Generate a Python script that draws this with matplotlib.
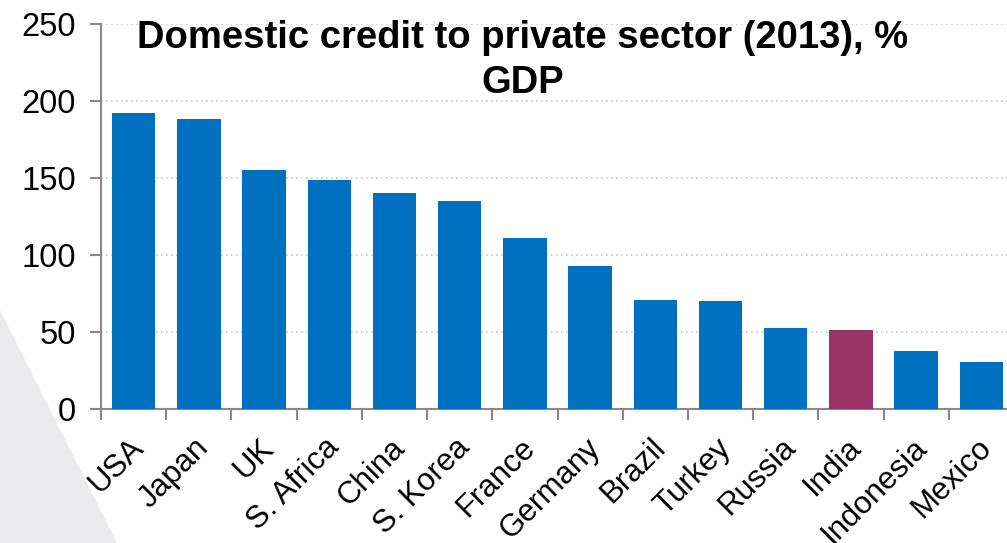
import numpy as np
import matplotlib
matplotlib.use("Agg")
import matplotlib.pyplot as plt
from matplotlib.patches import Polygon
from matplotlib.transforms import ScaledTranslation

plt.rcParams['font.family'] = ['Liberation Sans', 'DejaVu Sans']

# data
countries = ["USA", "Japan", "UK", "S. Africa", "China", "S. Korea", "France",
             "Germany", "Brazil", "Turkey", "Russia", "India", "Indonesia", "Mexico"]
credit_pct = [192, 188, 155, 149, 140, 135, 111, 93, 70.5, 70, 52.3, 51.6, 37.8, 30.2]
y_ticks = [0, 50, 100, 150, 200, 250]
title_lines = ["Domestic credit to private sector (2013), %", "GDP"]

blue = "#0070C0"
purple = "#993366"
colors = [purple if c == "India" else blue for c in countries]

fig = plt.figure(figsize=(10.07, 5.43), dpi=100)

# faint slide decoration in the lower left corner
bg = Polygon([[0, 1 - 310 / 543], [117 / 1007, 0], [0, 0]], closed=True,
             transform=fig.transFigure, facecolor="#EBEBED", edgecolor="none", zorder=0)
fig.patches.append(bg)

ax = fig.add_axes([101 / 1007, 1 - 409 / 543, (1014 - 101) / 1007, (409 - 24) / 543])
ax.patch.set_alpha(0)

x = np.arange(len(countries))
ax.bar(x, credit_pct, width=0.665, color=colors, zorder=3)

ax.set_xlim(-0.5, len(countries) - 0.5)
ax.set_ylim(0, 250)
ax.set_yticks(y_ticks)
ax.set_yticklabels([str(v) for v in y_ticks], fontsize=23.5)

# ticks on category boundaries, labels at centres
ax.set_xticks(np.arange(-0.5, len(countries) - 0.5, 1))
ax.set_xticklabels([])
ax.set_xticks(x, minor=True)
ax.set_xticklabels(countries, minor=True, rotation=45, ha="right", va="top",
                   rotation_mode="anchor", fontsize=22.5)
ax.tick_params(axis="x", which="minor", length=0, pad=17)
ax.tick_params(axis="x", which="major", length=8, width=1.5, color="#888888")
ax.tick_params(axis="y", length=8, width=1.5, color="#888888", pad=10)

shift = ScaledTranslation(-5 / 100, 0, fig.dpi_scale_trans)
for lab in ax.get_xticklabels(minor=True):
    lab.set_transform(lab.get_transform() + shift)

for s in ["top", "right"]:
    ax.spines[s].set_visible(False)
for s in ["left", "bottom"]:
    ax.spines[s].set_color("#888888")
    ax.spines[s].set_linewidth(1.5)

ax.yaxis.grid(True, linestyle=(0, (1, 2)), color="#C8C8C8", linewidth=1.2, zorder=0)
ax.set_axisbelow(True)

# title, two lines placed by baseline
fig.text(523 / 1007, 1 - 48 / 543, title_lines[0], ha="center", va="baseline",
         fontsize=27.5, fontweight="bold")
fig.text(523 / 1007, 1 - 93 / 543, title_lines[1], ha="center", va="baseline",
         fontsize=27.5, fontweight="bold")

fig.savefig("out.png", dpi=100)
